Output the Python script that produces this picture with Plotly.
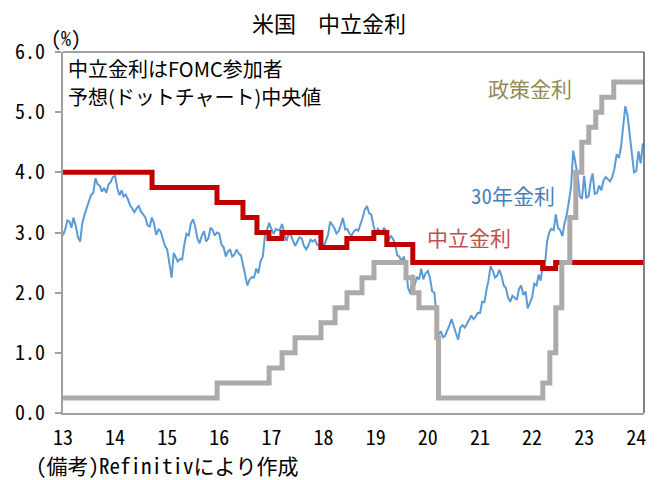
import plotly.graph_objects as go

# 30-year treasury yield, sampled on the 1st and 16th of each month (%)
yield_start = "2013-01-01"
yield_30y = [
    # 2013
    2.95, 3.05, 3.20, 3.18, 3.08, 3.25, 3.10, 2.92, 2.85, 3.15, 3.30, 3.42,
    3.52, 3.62, 3.66, 3.90, 3.80, 3.78, 3.68, 3.74, 3.66, 3.80, 3.84, 3.92,
    # 2014
    3.94, 3.74, 3.62, 3.70, 3.60, 3.63, 3.55, 3.45, 3.40, 3.34, 3.40, 3.44,
    3.35, 3.30, 3.25, 3.12, 3.10, 3.25, 3.15, 2.96, 3.05, 3.02, 2.88, 2.78,
    # 2015
    2.72, 2.45, 2.25, 2.66, 2.60, 2.52, 2.56, 2.55, 2.80, 2.98, 2.95, 3.15,
    3.22, 3.10, 2.90, 2.82, 2.95, 3.02, 2.85, 2.90, 3.08, 3.04, 2.95, 3.00,
    # 2016
    2.98, 2.80, 2.75, 2.60, 2.68, 2.72, 2.60, 2.63, 2.72, 2.65, 2.62, 2.45,
    2.25, 2.12, 2.22, 2.26, 2.25, 2.40, 2.32, 2.52, 2.60, 2.95, 3.05, 3.16,
    # 2017
    3.05, 2.98, 3.06, 3.04, 3.05, 3.14, 2.98, 2.86, 2.98, 2.96, 2.86, 2.78,
    2.85, 2.92, 2.90, 2.78, 2.72, 2.78, 2.88, 2.85, 2.88, 2.80, 2.78, 2.82,
    # 2018
    2.76, 2.86, 2.96, 3.18, 3.14, 3.08, 2.98, 3.02, 3.12, 3.24, 3.05, 3.06,
    2.98, 2.95, 3.02, 3.05, 3.03, 3.12, 3.24, 3.38, 3.44, 3.32, 3.30, 3.12,
    # 2019
    2.98, 3.06, 3.02, 3.02, 3.08, 3.02, 2.86, 2.95, 2.90, 2.82, 2.62, 2.60,
    2.52, 2.60, 2.45, 2.08, 1.98, 2.30, 2.12, 2.26, 2.22, 2.40, 2.22, 2.32,
    # 2020
    2.36, 2.25, 2.02, 2.00, 1.70, 1.30, 1.36, 1.26, 1.28, 1.36, 1.46, 1.56,
    1.42, 1.33, 1.22, 1.42, 1.46, 1.42, 1.48, 1.54, 1.62, 1.56, 1.60, 1.66,
    # 2021
    1.66, 1.85, 1.84, 2.05, 2.20, 2.44, 2.36, 2.25, 2.28, 2.38, 2.28, 2.12,
    2.08, 1.92, 1.85, 1.95, 1.92, 1.88, 2.06, 2.12, 1.96, 2.02, 1.74, 1.82,
    # 2022
    1.92, 2.15, 2.12, 2.30, 2.20, 2.42, 2.46, 2.85, 3.00, 3.06, 3.04, 3.30,
    3.08, 3.04, 2.94, 3.15, 3.30, 3.52, 3.76, 4.36, 4.12, 3.95, 3.60, 3.56,
    # 2023
    3.94, 3.58, 3.60, 3.86, 3.98, 3.64, 3.66, 3.78, 3.70, 3.86, 3.92, 3.88,
    3.85, 3.92, 4.06, 4.30, 4.24, 4.42, 4.72, 5.10, 4.94, 4.64, 4.40, 4.00,
    # 2024
    4.02, 4.35, 4.15, 4.48,
]

# policy rate (upper bound of FF target), step changes
policy_dates = ["2013-01-01", "2015-12-17", "2016-12-15", "2017-03-16", "2017-06-15",
                "2017-12-14", "2018-03-22", "2018-06-14", "2018-09-27", "2018-12-20",
                "2019-08-01", "2019-09-19", "2019-10-31", "2020-03-04", "2020-03-16",
                "2022-03-17", "2022-05-05", "2022-06-16", "2022-07-28", "2022-09-22",
                "2022-11-03", "2022-12-15", "2023-02-02", "2023-03-23", "2023-05-04",
                "2023-07-27", "2024-02-20"]
policy_rate = [0.25, 0.5, 0.75, 1.0, 1.25, 1.5, 1.75, 2.0, 2.25, 2.5,
               2.25, 2.0, 1.75, 1.25, 0.25, 0.5, 1.0, 1.75, 2.5, 3.25,
               4.0, 4.5, 4.75, 5.0, 5.25, 5.5, 5.5]

# neutral rate (FOMC longer-run median)
neutral_dates = ["2013-01-01", "2014-09-17", "2015-12-16", "2016-06-15", "2016-09-21",
                 "2016-12-14", "2017-03-15", "2017-12-13", "2018-06-13", "2018-12-19",
                 "2019-03-20", "2019-09-18", "2022-03-16", "2022-06-15", "2024-02-20"]
neutral_rate = [4.0, 3.75, 3.5, 3.25, 3.0, 2.9, 3.0, 2.75, 2.9, 3.0,
                2.8, 2.5, 2.4, 2.5, 2.5]

year_ticks = [f"{y}-01-01" for y in range(2013, 2025)]
year_labels = [str(y)[2:] for y in range(2013, 2025)]

# semi-monthly dates for the yield series
yield_dates = []
y0, m0 = int(yield_start[:4]), int(yield_start[5:7])
for i in range(len(yield_30y)):
    k = i // 2
    yy = y0 + (m0 - 1 + k) // 12
    mm = (m0 - 1 + k) % 12 + 1
    dd = 1 if i % 2 == 0 else 16
    yield_dates.append(f"{yy}-{mm:02d}-{dd:02d}")

MONO = "Noto Sans Mono CJK JP, Noto Sans CJK JP, sans-serif"
PROP = "Noto Sans CJK JP, sans-serif"

fig = go.Figure()

fig.add_trace(go.Scatter(x=yield_dates, y=yield_30y, mode="lines",
                         line=dict(color="#5B9BD5", width=2), showlegend=False))
fig.add_trace(go.Scatter(x=neutral_dates, y=neutral_rate, mode="lines",
                         line=dict(color="#C00000", width=5, shape="hv"), showlegend=False))
fig.add_trace(go.Scatter(x=policy_dates, y=policy_rate, mode="lines",
                         line=dict(color="#AEAAAA", width=5, shape="hv"), showlegend=False))

def note(text, x, y, color="#000000", size=20, xanchor="center", family=MONO):
    fig.add_annotation(text=text, x=x, y=y, xref="paper", yref="paper",
                       xanchor=xanchor, yanchor="middle", showarrow=False,
                       align="left", font=dict(family=family, size=size, color=color))

note("米国　中立金利", 0.458, 1.083, size=22)
note("(%)", 0.005, 1.039, size=20)
note("中立金利はFOMC参加者", 0.006, 0.953, xanchor="left", family=PROP, size=20)
note("予想(ドットチャート)中央値", 0.006, 0.877, xanchor="left", family=PROP, size=20)
note("政策金利", 0.804, 0.900, color="#948A54", size=21)
note("30年金利", 0.775, 0.604, color="#4A7EBB", size=21)
note("中立金利", 0.698, 0.4875, color="#C0504D", size=21)
note("(備考)Refinitivにより作成", -0.050, -0.144, xanchor="left", size=21)

# thin dark frame on top and right
fig.add_shape(type="line", xref="paper", yref="paper", x0=0, x1=1, y0=1, y1=1,
              line=dict(color="#404040", width=1))
fig.add_shape(type="line", xref="paper", yref="paper", x0=1, x1=1, y0=0, y1=1,
              line=dict(color="#595959", width=1.5))

fig.update_layout(
    width=657, height=480,
    margin=dict(l=63, r=13, t=52, b=67),
    paper_bgcolor="white", plot_bgcolor="white",
    xaxis=dict(type="date", range=["2013-01-01", "2024-02-24"],
               tickvals=year_ticks, ticktext=year_labels,
               showgrid=False, zeroline=False, showline=True,
               linecolor="#A0A0A0", linewidth=2, ticks="",
               ticklabelstandoff=6,
               tickfont=dict(family=MONO, size=20, color="#000000")),
    yaxis=dict(range=[0, 6], dtick=1, tickformat=".1f",
               showgrid=False, zeroline=False, showline=True,
               linecolor="#A0A0A0", linewidth=2, ticks="outside",
               ticklen=6, tickcolor="#A0A0A0", tickwidth=2,
               ticklabelstandoff=6,
               tickfont=dict(family=MONO, size=20, color="#000000")),
)

fig.write_html("out.html", config={"displayModeBar": False},
               post_script="document.body.style.margin='0px';"
                           "document.body.style.overflow='hidden';")
